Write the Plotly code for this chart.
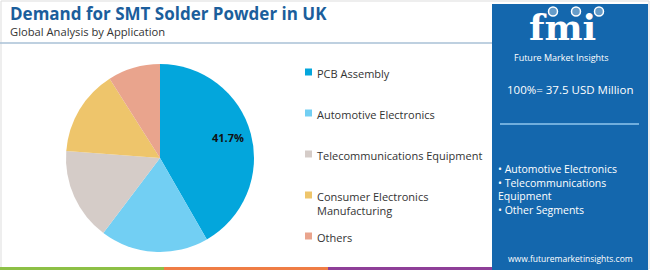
import math
import plotly.graph_objects as go

W, H = 650, 270

categories = ["PCB Assembly", "Automotive Electronics", "Telecommunications Equipment",
              "Consumer Electronics<br>Manufacturing", "Others"]
shares = [41.7, 18.6, 15.9, 14.8, 9.0]
colors = ["#03A6DC", "#72CFF3", "#D5CCC8", "#EEC56B", "#E9A48D"]
labelled = [True, False, False, False, False]

title = "Demand for SMT Solder Powder in UK"
subtitle = "Global Analysis by Application"
total_text = "100%= 37.5 USD Million"
panel_bullets = ["• Automotive Electronics", "• Telecommunications", "Equipment", "• Other Segments"]
url = "www.futuremarketinsights.com"

FONT = "Open Sans"
PANEL = "#1467AD"

# pie geometry (pixels)
CX, CY, R = 160, 158, 94


def px(x):
    return x / W


def py(y):
    return 1 - y / H


fig = go.Figure()
fig.add_trace(go.Pie(
    labels=categories, values=shares, sort=False, direction="clockwise", rotation=0,
    marker=dict(colors=colors, line=dict(width=0)),
    textinfo="none",
    domain=dict(x=[px(CX - R), px(CX + R)], y=[py(CY + R), py(CY - R)]),
    showlegend=False, hoverinfo="label+percent",
))

shapes = []
annotations = []

# percentage label(s) placed along slice bisector
total = sum(shares)
cum = 0.0
for v, show in zip(shares, labelled):
    mid = (cum + v / 2) / total * 2 * math.pi
    cum += v
    if show:
        r = R * 0.75
        annotations.append(dict(text=f"<b>{v / total * 100:.1f}%</b>",
                                x=px(CX + r * math.sin(mid)), y=py(CY - r * math.cos(mid) - 2),
                                xref="paper", yref="paper", showarrow=False,
                                font=dict(family=FONT, size=11, color="#111111")))

# outer border
shapes.append(dict(type="rect", xref="paper", yref="paper", x0=px(1), x1=px(649), y0=py(269), y1=py(1),
                   line=dict(color="#dddddd", width=1), fillcolor="rgba(0,0,0,0)", layer="below"))
# title separator
shapes.append(dict(type="line", xref="paper", yref="paper", x0=0, x1=px(492), y0=py(43), y1=py(43),
                   line=dict(color="#a9c0d6", width=1.5)))
# bottom bands
for x0, x1, c in [(0, 164, "#8DC046"), (164, 328, "#EF7D45"), (328, 492, "#8E3F98")]:
    shapes.append(dict(type="rect", xref="paper", yref="paper", x0=px(x0), x1=px(x1), y0=py(270), y1=py(267),
                       line=dict(width=0), fillcolor=c))
# right panel
shapes.append(dict(type="rect", xref="paper", yref="paper", x0=px(492), x1=px(648), y0=py(270), y1=py(4),
                   line=dict(width=0), fillcolor=PANEL))
shapes.append(dict(type="line", xref="paper", yref="paper", x0=px(500), x1=px(639), y0=py(124), y1=py(124),
                   line=dict(color="#8fc6ee", width=1.5)))
# logo icons
for cx in [553, 576, 599]:
    shapes.append(dict(type="circle", xref="paper", yref="paper", x0=px(cx - 4.5), x1=px(cx + 4.5),
                       y0=py(16), y1=py(7), line=dict(color="white", width=1.5), fillcolor="rgba(255,255,255,0.35)"))

# title
annotations.append(dict(text=f"<b>{title}</b>", x=px(9), y=py(14), xref="paper", yref="paper",
                        xanchor="left", yanchor="middle", showarrow=False, borderpad=0,
                        font=dict(family=FONT, size=17, color="#1B5E9C")))
annotations.append(dict(text=subtitle, x=px(9), y=py(31), xref="paper", yref="paper",
                        xanchor="left", yanchor="middle", showarrow=False, borderpad=0,
                        font=dict(family=FONT, size=11.2, color="#333333")))

# manual legend
leg_y = [72, 113, 154, 195, 236]
for cat, col, yy in zip(categories, colors, leg_y):
    shapes.append(dict(type="rect", xref="paper", yref="paper", x0=px(305), x1=px(312),
                       y0=py(yy + 3.5), y1=py(yy - 3.5), line=dict(width=0), fillcolor=col))
    annotations.append(dict(text=cat, x=px(315), y=py(yy - 8), xref="paper", yref="paper",
                            xanchor="left", yanchor="top", align="left", showarrow=False,
                            font=dict(family=FONT, size=11, color="#333333")))

# panel texts
annotations.append(dict(text="<b>fmi</b>", x=px(562), y=py(27), xref="paper", yref="paper",
                        xanchor="center", yanchor="middle", showarrow=False, borderpad=0,
                        font=dict(family="DejaVu Serif", size=36, color="white")))
annotations.append(dict(text="Future Market Insights", x=px(561), y=py(57), xref="paper", yref="paper",
                        xanchor="center", yanchor="middle", showarrow=False, borderpad=0,
                        font=dict(family=FONT, size=9, color="white")))
annotations.append(dict(text=total_text, x=px(570), y=py(90), xref="paper", yref="paper",
                        xanchor="center", yanchor="middle", showarrow=False,
                        font=dict(family=FONT, size=11.5, color="white")))
annotations.append(dict(text="<br>".join(panel_bullets), x=px(497), y=py(161), xref="paper", yref="paper",
                        xanchor="left", yanchor="top", align="left", showarrow=False, borderpad=0,
                        font=dict(family=FONT, size=10.5, color="white")))
annotations.append(dict(text=url, x=px(570), y=py(258), xref="paper", yref="paper",
                        xanchor="center", yanchor="middle", showarrow=False,
                        font=dict(family=FONT, size=8.5, color="white")))

fig.update_layout(
    width=W, height=H, margin=dict(l=0, r=0, t=0, b=0),
    paper_bgcolor="white", plot_bgcolor="white",
    shapes=shapes, annotations=annotations, showlegend=False,
)

fig.write_html("out.html")
